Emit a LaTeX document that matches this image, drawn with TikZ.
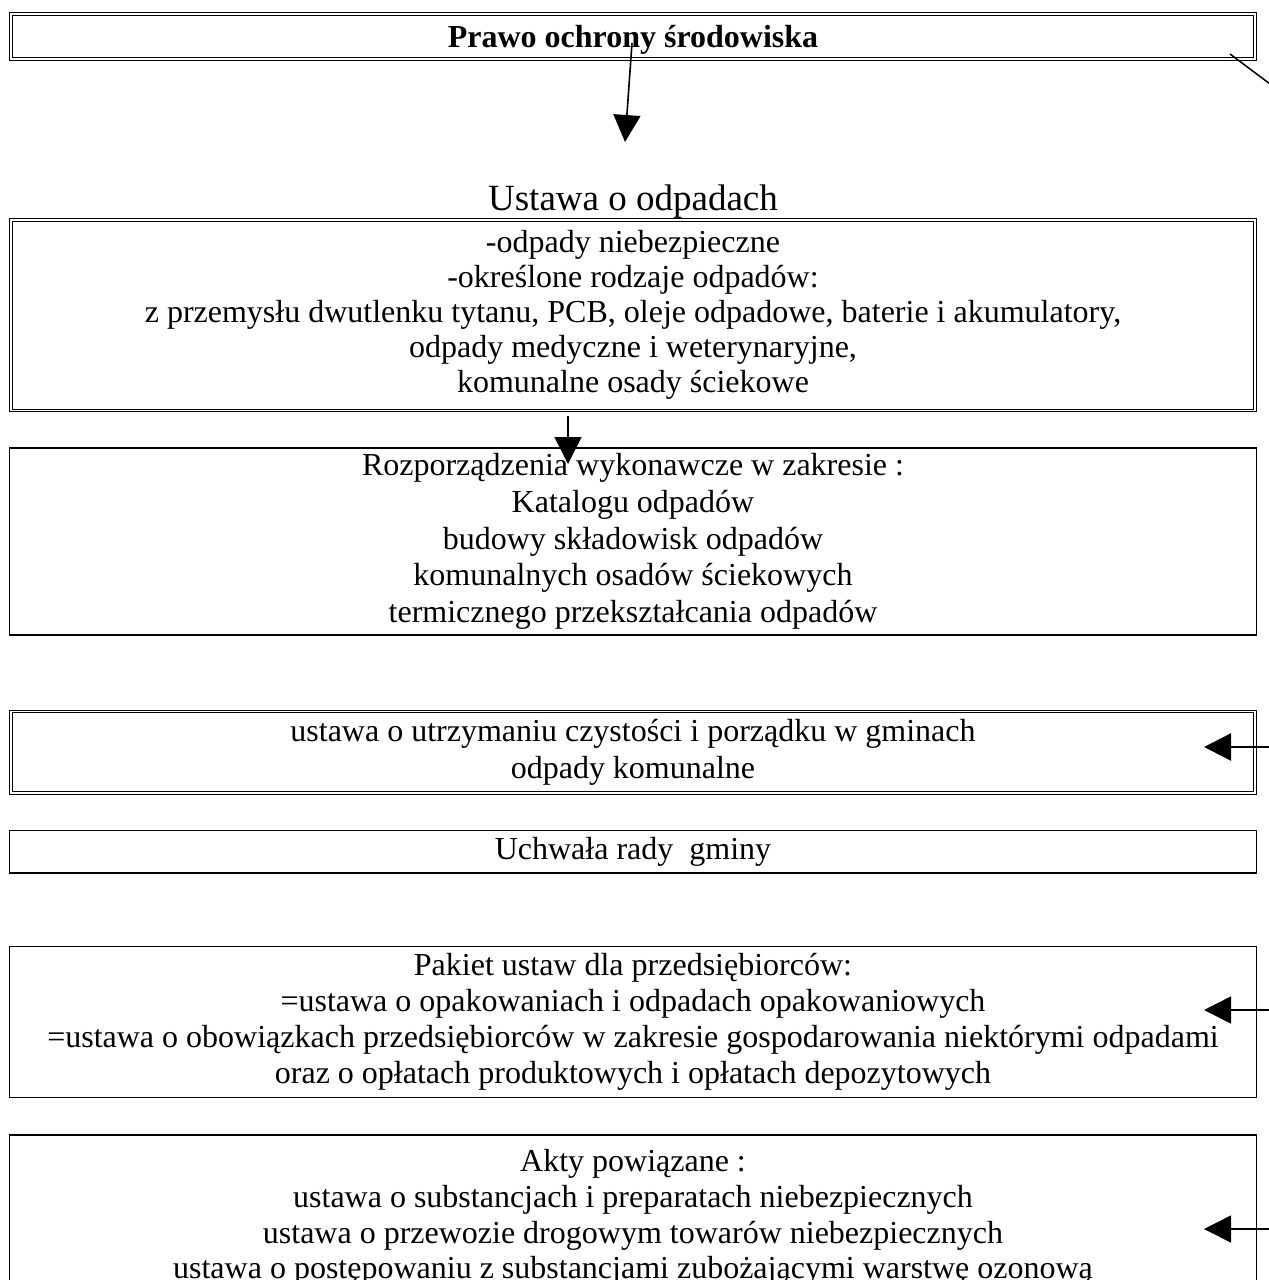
\documentclass[tikz,border=0pt]{standalone}
\usepackage{fontspec}
\setmainfont{Liberation Serif}
\usetikzlibrary{arrows.meta}
\begin{document}
\begin{tikzpicture}[x=1pt,y=-1pt,
  body/.style={font=\fontsize{32}{#1}\selectfont, align=center},
  body/.default=35.5,
  dbox/.style={draw, line width=1pt, double, double distance=1.6pt, inner sep=0pt},
  sbox/.style={draw, line width=1.2pt, inner sep=0pt},
  arr/.style={line width=1.6pt, -{Triangle[length=27pt,width=27pt]}},
]
\useasboundingbox (0,0) rectangle (1269,1280);
\fill[white] (0,0) rectangle (1269,1280);

\node[dbox, body, text height=28pt, text depth=6.8pt,
      minimum width=1244.5pt, minimum height=45.2pt] (title) at (633,36.4)
  {\textbf{Prawo ochrony środowiska}};

\node[font=\fontsize{37}{40}\selectfont, anchor=base] (ustawa) at (633,210) {Ustawa o odpadach};

\node[dbox, body=35, minimum width=1244.5pt, minimum height=190.6pt] (odpady) at (633,315)
  {-odpady niebezpieczne\\
   -określone rodzaje odpadów:\\
   z przemysłu dwutlenku tytanu, PCB, oleje odpadowe, baterie i akumulatory,\\
   odpady medyczne i weterynaryjne,\\
   komunalne osady ściekowe};

\node[sbox, body=36.8, minimum width=1246.5pt, minimum height=187pt] (rozp) at (633,541.5)
  {Rozporządzenia wykonawcze w zakresie :\\
   Katalogu odpadów\\
   budowy składowisk odpadów\\
   komunalnych osadów ściekowych\\
   termicznego przekształcania odpadów};

\node[dbox, body=37, minimum width=1244.5pt, minimum height=81.3pt] (czyst) at (633,752.2)
  {ustawa o utrzymaniu czystości i porządku w gminach\\
   odpady komunalne};

\node[sbox, body, minimum width=1246.5pt, minimum height=42.3pt] (uchw) at (633,851.9)
  {Uchwała rady\ \ gminy};

\node[sbox, body=36, minimum width=1246.5pt, minimum height=151pt] (pakiet) at (633,1021.8)
  {Pakiet ustaw dla przedsiębiorców:\\
   =ustawa o opakowaniach i odpadach opakowaniowych\\
   =ustawa o obowiązkach przedsiębiorców w zakresie gospodarowania niektórymi odpadami\\
   oraz o opłatach produktowych i opłatach depozytowych};

\node[sbox, body=35.7, minimum width=1246.5pt, minimum height=165pt] (akty) at (633,1217.5)
  {Akty powiązane :\\
   ustawa o substancjach i preparatach niebezpiecznych\\
   ustawa o przewozie drogowym towarów niebezpiecznych\\
   ustawa o postępowaniu z substancjami zubożającymi warstwę ozonową};

% connectors
\coordinate (a1s) at (632,43);
\coordinate (a1e) at (625,142);
\draw[arr] (a1s) -- (a1e);

\coordinate (a2s) at (568,416);
\coordinate (a2e) at (568,464);
\draw[arr] (a2s) -- (a2e);

\coordinate (d1s) at (1230,54);
\coordinate (d1e) at (1290,99);
\draw[line width=1.5pt] (d1s) -- (d1e);

\coordinate (a4s) at (1290,747);
\coordinate (a4e) at (1204,747);
\draw[arr, line width=2.5pt] (a4s) -- (a4e);

\coordinate (a6s) at (1290,1010);
\coordinate (a6e) at (1204,1010);
\draw[arr] (a6s) -- (a6e);

\coordinate (a7s) at (1290,1229);
\coordinate (a7e) at (1204,1229);
\draw[arr] (a7s) -- (a7e);
\end{tikzpicture}
\end{document}
